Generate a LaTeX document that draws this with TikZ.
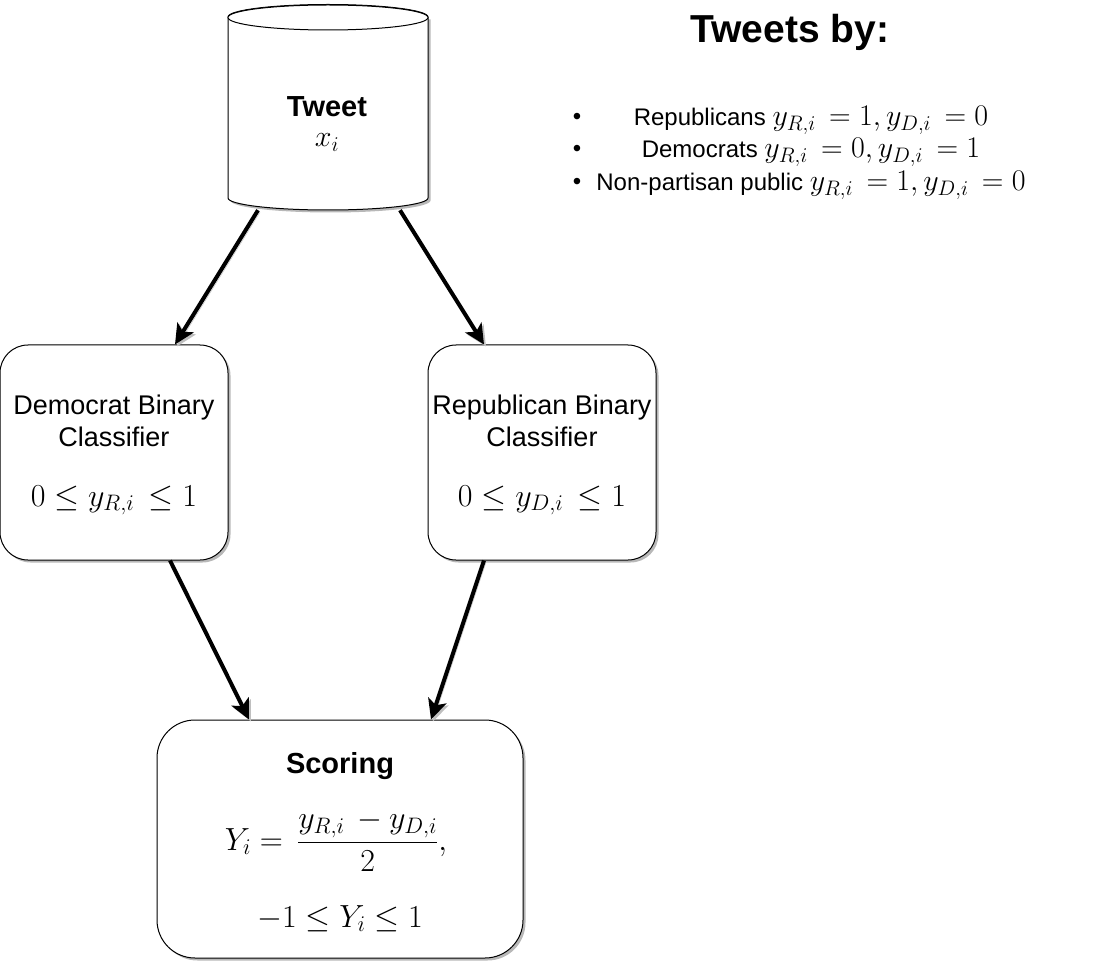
\RequirePackage{fix-cm}
\documentclass[tikz,border=0pt]{standalone}
\usepackage[no-math]{fontspec}
\setmainfont{Liberation Sans}
\usetikzlibrary{arrows.meta,shadows}
\begin{document}
\begin{tikzpicture}[x=1pt,y=-1pt,
  fs/.style={font=\fontsize{#1}{#1}\selectfont},
  sh/.style={drop shadow={shadow xshift=2.5pt,shadow yshift=-2.5pt,fill=black,opacity=0.28}},
  box/.style={draw=black,line width=1pt,fill=white,rounded corners=#1,sh,inner sep=0pt},
  lbl/.style={fs=27,anchor=base,inner sep=0pt},
  blbl/.style={font=\fontsize{29}{29}\selectfont\bfseries,anchor=base,inner sep=0pt},
  mlbl/.style={fs=32,anchor=base,inner sep=0pt},
  conn/.style={line width=4pt,-{Stealth[length=20pt,width=19pt,inset=5pt]},
    preaction={draw=black!25,transform canvas={xshift=2pt,yshift=-2pt}}},
  item/.style={fs=24,anchor=base,inner sep=0pt}]
\useasboundingbox (0,0) rectangle (1097,965);

% cylinder (Tweet)
\path[fill=black!28,shift={(2.5,2.5)}] (228,17) -- (228,198) arc[start angle=180,end angle=0,x radius=100,y radius=12] -- (428,17) -- cycle;
\path[draw=black,line width=1pt,fill=white] (228,17) -- (228,198) arc[start angle=180,end angle=0,x radius=100,y radius=12] -- (428,17) arc[start angle=0,end angle=-180,x radius=100,y radius=12.5] -- cycle;
\draw[line width=1pt,fill=white] (328,17.5) ellipse[x radius=100,y radius=12.5];
\node[minimum width=200pt,minimum height=205pt,inner sep=0pt] (tweet) at (328,107.5) {};
\node[blbl] (tweettxt) at (327,117) {Tweet};
\node[mlbl,fs=30] (xi) at (327,147) {$x_i$};

% classifier boxes
\node[box=28pt,minimum width=228pt,minimum height=215pt] (dem) at (114,452.5) {};
\node[lbl] (dem1) at (114,414) {Democrat Binary};
\node[lbl] (dem2) at (114,446) {Classifier};
\node[mlbl] (dem3) at (114,506) {$0 \le y_{R,i}\, \le 1$};

\node[box=28pt,minimum width=228pt,minimum height=215pt] (rep) at (542,452.5) {};
\node[lbl] (rep1) at (542,414) {Republican Binary};
\node[lbl] (rep2) at (542,446) {Classifier};
\node[mlbl] (rep3) at (542,506) {$0 \le y_{D,i}\, \le 1$};

% scoring box
\node[box=38pt,minimum width=366pt,minimum height=238pt] (score) at (340,839) {};
\node[blbl] (score1) at (340,773) {Scoring};
\node[mlbl] (score2) at (336,850) {$\displaystyle Y_i = \,\frac{y_{R,i}\, - y_{D,i}}{2},$};
\node[mlbl] (score3) at (340,927) {$-1 \le Y_i \le 1$};

% connectors
\draw[conn] ([xshift=-70pt]tweet.south) -- ([xshift=61pt]dem.north);
\draw[conn] ([xshift=72pt]tweet.south) -- ([xshift=-58pt]rep.north);
\draw[conn] ([xshift=56pt]dem.south) -- ([xshift=-91pt]score.north);
\draw[conn] ([xshift=-58pt]rep.south) -- ([xshift=91pt]score.north);

% legend
\node[font=\fontsize{39}{39}\selectfont\bfseries,anchor=base,inner sep=0pt] (title) at (790,43) {Tweets by:};
\node[item] (b1) at (577,125) {•};
\node[item] (b2) at (577,157) {•};
\node[item] (b3) at (577,190) {•};
\node[item] (i1) at (811,126) {Republicans \fontsize{30}{30}\selectfont$y_{R,i}\, = 1, y_{D,i}\, = 0$};
\node[item] (i2) at (811,158) {Democrats \fontsize{30}{30}\selectfont$y_{R,i}\, = 0, y_{D,i}\, = 1$};
\node[item] (i3) at (811,191) {Non-partisan public \fontsize{30}{30}\selectfont$y_{R,i}\, = 1, y_{D,i}\, = 0$};
\end{tikzpicture}
\end{document}
